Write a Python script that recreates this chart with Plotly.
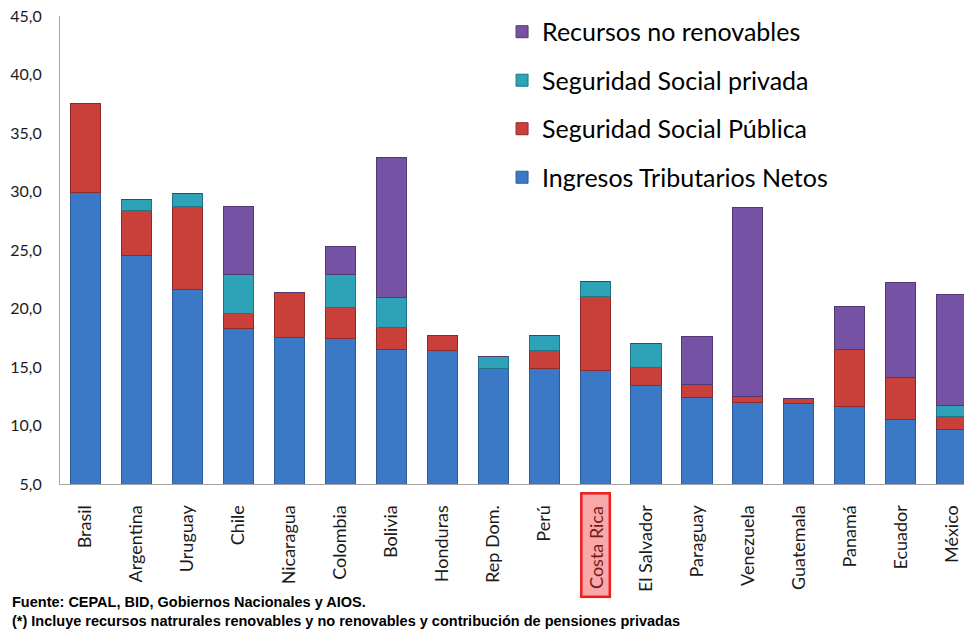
import plotly.graph_objects as go

countries = ["Brasil", "Argentina", "Uruguay", "Chile", "Nicaragua", "Colombia", "Bolivia",
             "Honduras", "Rep Dom.", "Perú", "Costa Rica", "El Salvador", "Paraguay",
             "Venezuela", "Guatemala", "Panamá", "Ecuador", "México"]
tributarios = [29.9, 24.5, 21.6, 18.3, 17.5, 17.4, 16.5, 16.4, 14.9, 14.9, 14.7, 13.4, 12.4, 12.0, 11.9, 11.6, 10.5, 9.7]
ss_publica = [7.6, 3.9, 7.1, 1.3, 3.9, 2.7, 1.9, 1.3, 0.0, 1.5, 6.3, 1.6, 1.1, 0.5, 0.4, 4.9, 3.6, 1.1]
ss_privada = [0.0, 0.9, 1.1, 3.3, 0.0, 2.8, 2.5, 0.0, 1.0, 1.3, 1.3, 2.0, 0.0, 0.0, 0.0, 0.0, 0.0, 0.9]
recursos = [0.0, 0.0, 0.0, 5.8, 0.0, 2.4, 12.0, 0.0, 0.0, 0.0, 0.0, 0.0, 4.1, 16.1, 0.0, 3.7, 8.1, 9.5]

yticks = [5, 10, 15, 20, 25, 30, 35, 40, 45]
highlight = "Costa Rica"

series = [
    ("Ingresos Tributarios Netos", tributarios, "#3b78c6", "#2a5a9a"),
    ("Seguridad Social Pública", ss_publica, "#c9403b", "#8e2a27"),
    ("Seguridad Social privada", ss_privada, "#2ea3b8", "#1f7585"),
    ("Recursos no renovables", recursos, "#7552a3", "#523974"),
]

fig = go.Figure()
n = len(series)
for i, (name, vals, col, edge) in enumerate(series):
    fig.add_trace(go.Bar(
        x=countries, y=vals, name=name, legendgroup=f"g{i}", legendrank=n - i,
        marker=dict(color=col, line=dict(color=edge, width=1)),
    ))

ticktext = [c if c != highlight else " " for c in countries]

fig.update_layout(
    barmode="stack",
    bargap=0.41,
    width=964, height=631,
    margin=dict(l=60, r=0, t=16, b=147),
    paper_bgcolor="white", plot_bgcolor="white",
    separators=",.",
    font=dict(family="Lato", color="#1a1a1a"),
    showlegend=True,
    legend=dict(
        x=0.489, y=1.015, xanchor="left", yanchor="top",
        traceorder="grouped", tracegroupgap=13,
        font=dict(family="Lato", size=25, color="#000000"),
        bgcolor="rgba(0,0,0,0)",
    ),
    xaxis=dict(
        range=[-0.5, 17.24],
        tickmode="array", tickvals=countries, ticktext=ticktext,
        tickangle=-90, tickfont=dict(family="Lato", size=18, color="#1a1a1a"),
        showline=True, linecolor="#a6a6a6", linewidth=1,
        ticks="", showgrid=False, ticklabelstandoff=13,
    ),
    yaxis=dict(
        range=[5, 45], tickvals=yticks, tickformat=".1f",
        tickfont=dict(family="Lato", size=16, color="#1a1a1a"),
        showline=True, linecolor="#a6a6a6", linewidth=1,
        ticks="", showgrid=False, zeroline=False, ticklabelstandoff=14,
    ),
)

fig.add_annotation(
    x=highlight, y=0, xref="x", yref="paper", yanchor="top", xanchor="center",
    yshift=-8, text=" " + highlight + "  ", textangle=-90, showarrow=False,
    font=dict(family="Lato", size=18, color="#7a1a1a"),
    bgcolor="#f7a8a8", bordercolor="#ee1c1c", borderwidth=2.5, borderpad=2,
)

plot_h = 631 - 16 - 147
foot_font = dict(family="Liberation Sans", size=14.5, color="#000000")
for txt, py in [
    ("<b>Fuente: CEPAL, BID, Gobiernos Nacionales y AIOS.</b>", 602),
    ("<b>(*) Incluye recursos natrurales renovables y no renovables y contribución de pensiones privadas</b>", 621),
]:
    fig.add_annotation(
        x=(10 - 60) / (964 - 60), y=1 - (py - 16) / plot_h,
        xref="paper", yref="paper", showarrow=False, text=txt,
        font=foot_font, xanchor="left", yanchor="middle",
    )

fig.write_html("out.html")
